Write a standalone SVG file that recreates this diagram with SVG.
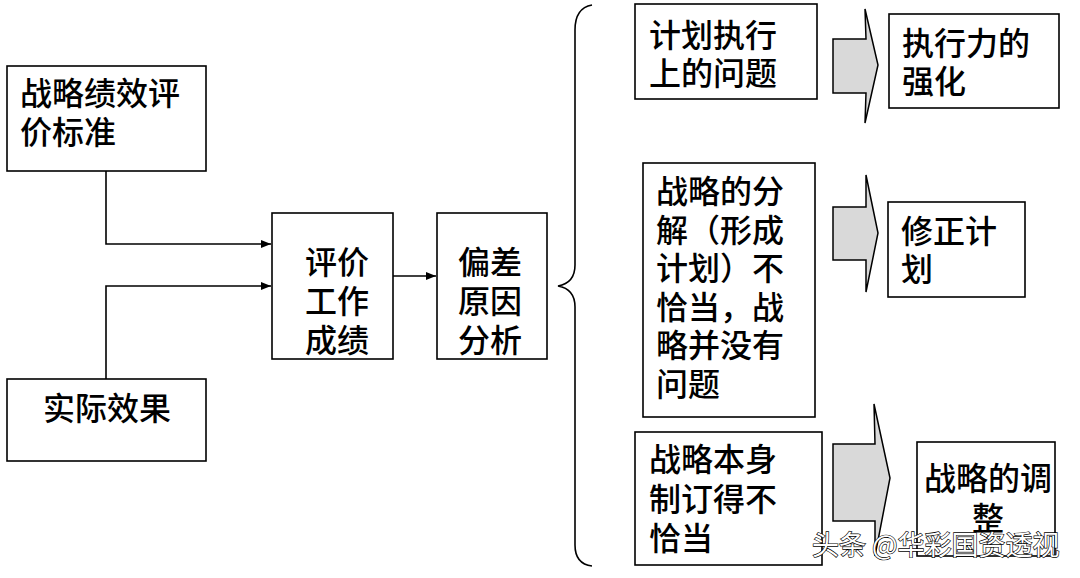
<svg xmlns="http://www.w3.org/2000/svg" width="1080" height="578" viewBox="0 0 1080 578">
<defs>
<style>
.box{fill:#fff;stroke:#000;stroke-width:1.6}
.t{font-family:"Noto Sans CJK SC","Noto Sans",sans-serif;font-size:32px;fill:#000;font-weight:500}
.ln{fill:none;stroke:#000;stroke-width:1.6}
.blk{fill:#d9d9d9;stroke:#000;stroke-width:1.5;stroke-linejoin:miter}
.wm{font-family:"Noto Sans CJK SC","Noto Sans",sans-serif;font-size:27px;fill:#fff;stroke:#000;stroke-width:1.3;paint-order:stroke}
</style>
<marker id="ah" markerWidth="10" markerHeight="8" refX="10" refY="4" orient="auto" markerUnits="userSpaceOnUse">
<path d="M0,0 L10,4 L0,8 Z" fill="#000"/>
</marker>
</defs>
<rect width="1080" height="578" fill="#fff"/>

<g id="connectors">
<path class="ln" d="M106,171 V244 H271" marker-end="url(#ah)"/>
<path class="ln" d="M106,379 V286 H271" marker-end="url(#ah)"/>
<path class="ln" d="M393,276 H436" marker-end="url(#ah)"/>
<path class="ln" d="M592,5 Q575,8 575,30 L575,265 Q575,283 558,286 Q575,289 575,307 L575,545 Q575,564 592,566"/>
<polygon class="blk" points="833,39 866,39 865,9 878,65 865,123 866,93 833,93"/>
<polygon class="blk" points="833,207 866,207 866,175 878,233 866,292 866,260 833,260"/>
<polygon class="blk" points="833,444 875,444 874,404 890,478 875,556 875,521 833,521"/>
</g>

<g id="n1">
<rect class="box" x="7" y="66" width="199" height="105"/>
<text class="t" x="20" y="105">战略绩效评<tspan x="20" dy="39">价标准</tspan></text>
</g>
<g id="n2">
<rect class="box" x="7" y="379" width="199" height="82"/>
<text class="t" x="107" y="420" text-anchor="middle">实际效果</text>
</g>
<g id="n3">
<rect class="box" x="272" y="213" width="121" height="146"/>
<text class="t" x="305" y="274">评价<tspan x="305" dy="39">工作</tspan><tspan x="305" dy="39">成绩</tspan></text>
</g>
<g id="n4">
<rect class="box" x="437" y="213" width="110" height="146"/>
<text class="t" x="458" y="274">偏差<tspan x="458" dy="39">原因</tspan><tspan x="458" dy="39">分析</tspan></text>
</g>
<g id="n5">
<rect class="box" x="635" y="4" width="182" height="95"/>
<text class="t" x="649" y="47">计划执行<tspan x="649" dy="38">上的问题</tspan></text>
</g>
<g id="n6">
<rect class="box" x="889" y="14" width="170" height="94"/>
<text class="t" x="902" y="55">执行力的<tspan x="902" dy="38">强化</tspan></text>
</g>
<g id="n7">
<rect class="box" x="643" y="163" width="172" height="254"/>
<text class="t" x="656" y="203">战略的分<tspan x="656" dy="38.6">解（形成</tspan><tspan x="656" dy="38.6">计划）不</tspan><tspan x="656" dy="38.6">恰当，战</tspan><tspan x="656" dy="38.6">略并没有</tspan><tspan x="656" dy="38.6">问题</tspan></text>
</g>
<g id="n8">
<rect class="box" x="888" y="202" width="137" height="95"/>
<text class="t" x="901" y="243">修正计<tspan x="901" dy="38">划</tspan></text>
</g>
<g id="n9">
<rect class="box" x="635" y="432" width="187" height="133"/>
<text class="t" x="649" y="471">战略本身<tspan x="649" dy="39.5">制订得不</tspan><tspan x="649" dy="39.5">恰当</tspan></text>
</g>
<g id="n10">
<rect class="box" x="917" y="442" width="138" height="114"/>
<text class="t" x="924" y="490">战略的调<tspan x="988" dy="40" text-anchor="middle">整</tspan></text>
</g>

<text class="wm" x="812" y="555">头条 @华彩国资透视</text>
</svg>
